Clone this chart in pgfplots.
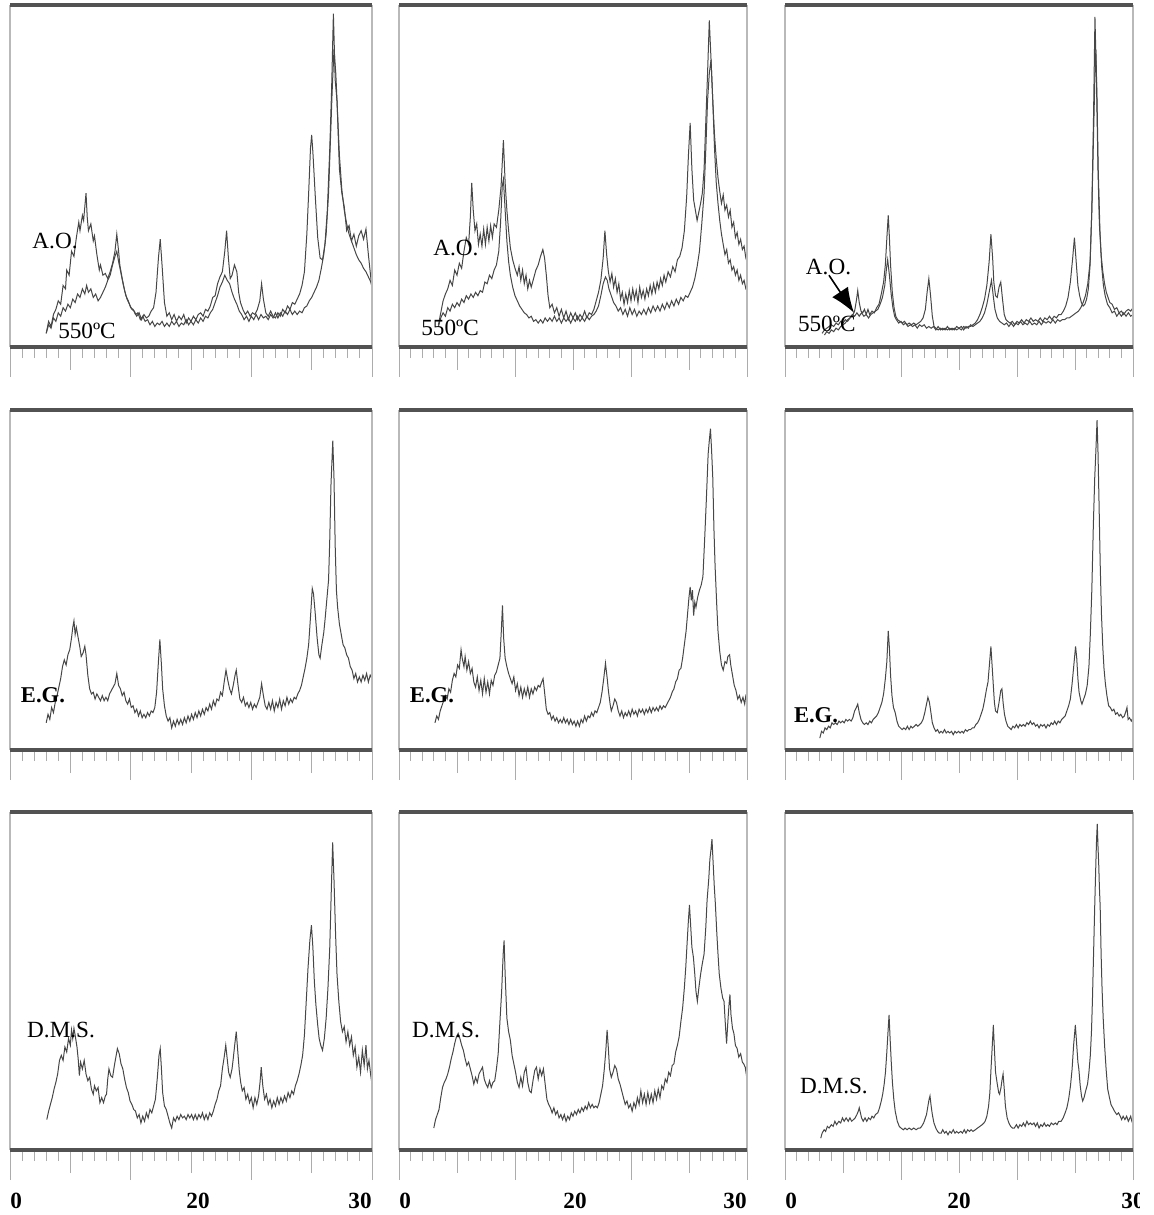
\documentclass[border=0pt]{standalone}
\usepackage{fontspec}
\setmainfont{Liberation Serif}
\usepackage{pgfplots}
\pgfplotsset{compat=1.18}
\usetikzlibrary{arrows.meta}

\pgfplotsset{
  xrd/.style={
    scale only axis,
    xmin=0, xmax=30, ymin=0, ymax=100,
    axis line style={draw=none},
    ytick=\empty,
    xtick={0,10,20,30},
    xticklabels={},
    minor xtick={1,...,29},
    extra x ticks={5,15,25},
    extra x tick labels={},
    extra x tick style={major tick length=11.5pt},
    xtick pos=lower,
    tick align=outside,
    major tick length=15pt,
    minor tick length=5.5pt,
    tick style={gray!65, line width=0.5pt},
    clip=false,
    anchor=south west,
  },
  curve/.style={black!72, line width=0.5pt},
}
\tikzset{lbl/.style={font=\fontsize{11.6}{13}\selectfont, inner sep=0pt},
         lblb/.style={font=\bfseries\fontsize{11.3}{13}\selectfont, inner sep=0pt},
         num/.style={font=\bfseries\fontsize{11.6}{13}\selectfont, inner sep=0pt}}
\newcommand\frm{%
  \draw[gray!55, line width=0.6pt] (rel axis cs:0,0) -- (rel axis cs:0,1);
  \draw[gray!55, line width=0.6pt] (rel axis cs:1,0) -- (rel axis cs:1,1);
  \draw[black!68, line width=1.6pt] (rel axis cs:0,1) -- (rel axis cs:1,1);
  \draw[black!68, line width=1.6pt] (rel axis cs:0,0) -- (rel axis cs:1,0);
}

\begin{document}
\begin{tikzpicture}
\path[use as bounding box] (0,0) rectangle (577pt,-607.5pt);

% ---------------- row 1 ----------------
\begin{axis}[xrd, at={(5pt,-173.5pt)}, width=181pt, height=171pt]
\addplot[curve] coordinates {
(3.0,4.0) (3.2,7.5) (3.4,6.0) (3.6,9.5) (3.8,11.0) (4.0,13.5) (4.2,12.5) (4.4,18.0) (4.6,17.0) (4.7,22.5) (4.9,21.0) (5.1,28.0) (5.3,26.5) (5.5,32.0) (5.7,36.5) (5.8,34.0) (6.0,38.5) (6.1,37.0) (6.3,45.0) (6.4,38.0) (6.5,34.0) (6.7,36.0) (6.9,31.0) (7.0,32.5) (7.2,27.0) (7.4,22.5) (7.5,24.0) (7.7,21.0) (7.9,21.5) (8.1,20.0) (8.3,22.0) (8.5,24.5) (8.7,28.0) (8.85,33.0) (9.0,28.0) (9.1,24.0) (9.3,20.0) (9.5,16.5) (9.7,14.0) (9.9,12.5) (10.1,11.0) (10.3,10.5) (10.5,9.0) (10.7,10.0) (10.9,8.0) (11.1,9.5) (11.3,8.5) (11.5,9.0) (11.7,10.5) (11.9,11.5) (12.1,16.0) (12.3,26.0) (12.45,31.5) (12.6,24.0) (12.8,13.0) (13.0,9.0) (13.2,10.0) (13.4,8.0) (13.6,9.5) (13.8,7.5) (14.0,9.0) (14.2,8.0) (14.4,9.5) (14.6,7.0) (14.8,8.5) (15.0,7.5) (15.2,9.0) (15.4,8.0) (15.6,9.5) (15.8,10.0) (16.0,9.0) (16.2,11.0) (16.4,10.5) (16.6,12.0) (16.8,14.5) (17.0,15.0) (17.2,18.5) (17.4,20.5) (17.6,22.0) (17.8,28.0) (17.95,34.0) (18.1,26.0) (18.25,20.0) (18.4,21.0) (18.6,24.0) (18.8,22.0) (18.95,16.0) (19.1,13.0) (19.3,11.0) (19.5,9.5) (19.7,10.5) (19.9,9.0) (20.1,10.0) (20.3,9.5) (20.5,11.0) (20.7,13.5) (20.85,18.5) (21.0,14.0) (21.2,10.0) (21.4,9.0) (21.6,10.5) (21.8,9.0) (22.0,8.5) (22.2,10.0) (22.4,9.0) (22.6,11.0) (22.8,10.0) (23.0,12.0) (23.2,11.0) (23.4,13.0) (23.6,12.5) (23.8,14.0) (24.0,15.5) (24.2,18.0) (24.4,22.0) (24.6,33.0) (24.75,45.0) (24.9,58.0) (25.0,62.0) (25.1,57.0) (25.3,44.0) (25.5,32.0) (25.7,26.0) (25.9,25.5) (26.1,30.0) (26.3,40.0) (26.5,58.0) (26.65,75.0) (26.8,97.5) (26.95,78.0) (27.1,72.0) (27.3,52.0) (27.5,45.0) (27.7,41.0) (27.9,34.0) (28.1,35.5) (28.3,31.0) (28.5,33.0) (28.7,29.5) (28.9,32.5) (29.1,34.0) (29.3,31.5) (29.5,34.5) (29.7,27.0) (29.85,22.0) (30.0,17.0)
};
\addplot[curve] coordinates {
(3.0,4.0) (3.2,6.5) (3.4,5.5) (3.6,8.5) (3.8,7.5) (4.0,10.0) (4.2,9.0) (4.4,11.5) (4.6,10.5) (4.8,12.5) (5.0,11.5) (5.2,14.0) (5.4,13.0) (5.6,15.5) (5.8,14.5) (6.0,17.0) (6.2,15.5) (6.35,18.0) (6.5,16.0) (6.7,17.0) (6.9,14.5) (7.1,15.5) (7.3,13.5) (7.5,14.5) (7.7,16.0) (7.9,17.5) (8.1,19.5) (8.3,21.0) (8.5,24.0) (8.7,26.5) (8.85,28.0) (9.0,25.0) (9.2,21.5) (9.4,18.0) (9.6,15.0) (9.8,13.5) (10.0,11.5) (10.2,11.0) (10.4,9.5) (10.6,10.0) (10.8,8.0) (11.0,9.0) (11.2,7.5) (11.4,8.0) (11.6,6.5) (11.8,7.5) (12.0,6.0) (12.2,7.0) (12.4,6.5) (12.6,7.5) (12.8,6.0) (13.0,7.0) (13.2,6.0) (13.4,7.5) (13.6,6.5) (13.8,7.5) (14.0,6.0) (14.2,7.0) (14.4,6.5) (14.6,8.0) (14.8,6.5) (15.0,7.5) (15.2,6.5) (15.4,8.0) (15.6,7.0) (15.8,8.5) (16.0,7.5) (16.2,9.0) (16.4,8.5) (16.6,10.0) (16.8,11.0) (17.0,13.0) (17.2,15.0) (17.4,17.5) (17.6,19.0) (17.8,21.0) (18.0,19.5) (18.2,18.5) (18.4,16.0) (18.6,14.0) (18.8,12.5) (19.0,10.5) (19.2,9.5) (19.4,8.0) (19.6,9.0) (19.8,7.5) (20.0,9.0) (20.2,8.0) (20.4,9.5) (20.6,8.0) (20.8,9.5) (21.0,8.5) (21.2,9.0) (21.4,8.0) (21.6,9.5) (21.8,8.5) (22.0,10.0) (22.2,8.5) (22.4,10.0) (22.6,9.0) (22.8,10.5) (23.0,9.5) (23.2,11.0) (23.4,9.5) (23.6,10.5) (23.8,9.5) (24.0,10.5) (24.2,10.0) (24.4,11.5) (24.6,12.0) (24.8,13.5) (25.0,14.5) (25.2,16.0) (25.4,17.5) (25.6,19.5) (25.8,23.0) (26.0,27.0) (26.2,33.0) (26.4,45.0) (26.55,60.0) (26.7,75.0) (26.85,87.0) (27.0,80.0) (27.15,68.0) (27.3,56.0) (27.5,46.0) (27.7,40.0) (27.9,36.0) (28.1,33.0) (28.3,31.0) (28.5,29.0) (28.7,27.0) (28.9,25.5) (29.1,24.5) (29.3,23.0) (29.5,22.0) (29.7,20.5) (29.9,19.0) (30.0,17.5)
};
\frm
\node[lbl] at (axis cs:3.73,31.0) {A.O.};
\node[lbl] at (axis cs:6.38,4.7) {550ºC};
\end{axis}

\begin{axis}[xrd, at={(199.5pt,-173.5pt)}, width=174pt, height=171pt]
\addplot[curve] coordinates {
(3.4,6.5) (3.6,10.0) (3.8,13.5) (4.0,15.5) (4.2,17.0) (4.4,19.5) (4.6,18.0) (4.8,22.5) (5.0,21.0) (5.2,24.5) (5.4,23.0) (5.6,28.0) (5.8,32.0) (6.0,30.0) (6.15,38.0) (6.27,48.0) (6.4,40.0) (6.55,34.0) (6.7,36.0) (6.85,30.0) (7.0,33.0) (7.15,29.5) (7.3,34.5) (7.45,30.0) (7.6,35.0) (7.75,31.0) (7.9,35.5) (8.05,32.0) (8.2,36.0) (8.4,35.0) (8.6,40.0) (8.8,47.0) (9.0,60.5) (9.15,48.0) (9.3,40.0) (9.45,34.0) (9.6,29.0) (9.8,25.5) (10.0,23.0) (10.2,21.0) (10.35,23.5) (10.5,19.5) (10.65,22.5) (10.8,18.5) (10.95,21.0) (11.1,17.0) (11.25,19.5) (11.4,17.5) (11.6,20.0) (11.8,22.5) (12.0,24.0) (12.2,26.5) (12.4,28.5) (12.55,26.0) (12.7,21.0) (12.85,15.0) (13.0,11.5) (13.2,12.5) (13.4,10.0) (13.6,11.5) (13.8,9.0) (14.0,11.0) (14.2,8.5) (14.4,10.5) (14.6,8.0) (14.8,10.0) (15.0,8.5) (15.2,10.0) (15.4,8.0) (15.6,9.5) (15.8,8.5) (16.0,10.5) (16.2,8.5) (16.4,10.0) (16.6,9.5) (16.8,11.0) (17.0,13.5) (17.2,16.0) (17.4,19.5) (17.6,26.0) (17.75,34.0) (17.9,27.0) (18.05,22.0) (18.2,19.0) (18.35,21.5) (18.5,17.5) (18.65,20.0) (18.8,16.0) (18.95,18.5) (19.1,14.0) (19.25,16.0) (19.4,12.5) (19.55,15.5) (19.7,13.0) (19.85,16.5) (20.0,13.5) (20.15,17.0) (20.3,14.0) (20.45,16.5) (20.6,13.0) (20.75,17.5) (20.9,14.5) (21.05,16.5) (21.2,14.0) (21.35,17.0) (21.5,15.0) (21.65,18.0) (21.8,15.5) (21.95,18.5) (22.1,16.0) (22.25,19.0) (22.4,17.0) (22.55,20.0) (22.7,18.0) (22.85,21.0) (23.0,19.0) (23.2,22.0) (23.4,20.5) (23.6,23.5) (23.8,22.0) (24.0,25.5) (24.2,26.5) (24.4,29.0) (24.6,34.0) (24.8,44.0) (24.95,56.0) (25.1,65.5) (25.25,52.0) (25.4,43.0) (25.55,40.0) (25.7,37.0) (25.85,39.5) (26.0,42.0) (26.15,45.0) (26.3,52.0) (26.45,66.0) (26.6,80.0) (26.75,95.5) (26.9,84.0) (27.05,72.0) (27.2,62.0) (27.35,55.0) (27.5,49.5) (27.65,45.5) (27.8,42.0) (27.95,44.5) (28.1,40.0) (28.25,41.5) (28.4,38.0) (28.55,40.0) (28.7,35.0) (28.85,36.5) (29.0,32.0) (29.15,33.5) (29.3,30.0) (29.45,31.5) (29.6,28.5) (29.75,29.5) (29.9,26.0) (30.0,25.0)
};
\addplot[curve] coordinates {
(3.4,6.0) (3.6,8.5) (3.8,10.0) (4.0,9.0) (4.2,11.5) (4.4,10.5) (4.6,12.5) (4.8,11.5) (5.0,13.0) (5.2,12.0) (5.4,14.0) (5.6,13.0) (5.8,15.0) (6.0,14.0) (6.2,15.5) (6.4,14.5) (6.6,16.0) (6.8,15.0) (7.0,16.5) (7.2,16.0) (7.4,19.0) (7.6,18.5) (7.8,21.0) (8.0,20.0) (8.2,22.5) (8.4,24.0) (8.6,28.0) (8.75,36.0) (8.9,47.0) (9.0,49.0) (9.15,40.0) (9.3,31.0) (9.45,25.0) (9.6,21.0) (9.8,17.5) (10.0,15.0) (10.2,13.5) (10.4,12.0) (10.6,11.0) (10.8,10.0) (11.0,9.5) (11.2,8.5) (11.4,9.0) (11.6,7.5) (11.8,8.0) (12.0,7.0) (12.2,8.0) (12.4,7.0) (12.6,8.5) (12.8,7.5) (13.0,8.5) (13.2,7.5) (13.4,9.0) (13.6,7.5) (13.8,8.5) (14.0,7.0) (14.2,8.5) (14.4,7.5) (14.6,8.5) (14.8,7.0) (15.0,8.5) (15.2,7.5) (15.4,9.0) (15.6,7.5) (15.8,8.5) (16.0,7.5) (16.2,9.0) (16.4,8.0) (16.6,9.0) (16.8,9.5) (17.0,10.5) (17.2,12.0) (17.4,15.0) (17.6,18.5) (17.8,20.5) (17.95,19.5) (18.1,17.0) (18.3,15.0) (18.5,13.0) (18.7,12.0) (18.9,10.5) (19.1,11.5) (19.3,9.5) (19.5,11.0) (19.7,9.0) (19.9,11.5) (20.1,9.5) (20.3,11.0) (20.5,9.0) (20.7,10.5) (20.9,9.5) (21.1,11.0) (21.3,9.5) (21.5,11.5) (21.7,10.0) (21.9,12.0) (22.1,10.5) (22.3,12.0) (22.5,10.5) (22.7,12.5) (22.9,11.0) (23.1,13.0) (23.3,11.5) (23.5,13.5) (23.7,12.0) (23.9,14.0) (24.1,12.5) (24.3,14.5) (24.5,13.5) (24.7,15.0) (24.9,14.5) (25.1,16.0) (25.3,17.5) (25.5,20.0) (25.7,23.5) (25.9,28.0) (26.1,36.0) (26.3,45.0) (26.45,58.0) (26.6,72.0) (26.75,80.0) (26.9,84.0) (27.05,72.0) (27.2,58.0) (27.35,48.0) (27.5,42.0) (27.65,37.0) (27.8,33.0) (27.95,30.0) (28.1,27.0) (28.25,28.5) (28.4,24.5) (28.55,25.5) (28.7,22.5) (28.85,23.5) (29.0,21.0) (29.15,22.5) (29.3,19.5) (29.45,21.0) (29.6,18.5) (29.75,19.5) (29.9,17.0) (30.0,16.5)
};
\frm
\node[lbl] at (axis cs:4.91,28.9) {A.O.};
\node[lbl] at (axis cs:4.4,5.6) {550ºC};
\end{axis}

\begin{axis}[xrd, at={(392.5pt,-173.5pt)}, width=174pt, height=171pt]
\addplot[curve] coordinates {
(3.2,4.0) (3.4,5.0) (3.6,5.5) (3.8,6.0) (4.0,6.5) (4.2,6.0) (4.4,7.0) (4.6,6.5) (4.8,7.5) (5.0,7.0) (5.2,8.0) (5.4,7.5) (5.6,8.5) (5.8,9.0) (6.0,10.5) (6.15,13.5) (6.27,16.5) (6.4,13.0) (6.55,10.5) (6.7,10.0) (6.85,11.0) (7.0,9.5) (7.15,11.0) (7.3,9.5) (7.5,10.5) (7.7,10.0) (7.9,11.5) (8.1,12.5) (8.3,15.5) (8.5,19.0) (8.65,24.0) (8.8,33.0) (8.9,38.5) (9.0,32.0) (9.1,24.0) (9.25,16.0) (9.4,11.5) (9.55,9.0) (9.7,8.0) (9.9,7.5) (10.1,7.0) (10.3,7.5) (10.5,6.5) (10.7,7.0) (10.9,6.5) (11.1,7.0) (11.3,6.5) (11.5,7.0) (11.7,7.5) (11.9,8.5) (12.1,11.0) (12.25,16.0) (12.4,20.0) (12.55,15.0) (12.7,9.0) (12.85,6.0) (13.0,5.5) (13.2,5.0) (13.4,5.5) (13.6,5.0) (13.8,5.5) (14.0,5.0) (14.2,5.5) (14.4,5.0) (14.6,5.5) (14.8,5.0) (15.0,5.5) (15.2,5.0) (15.4,6.0) (15.6,5.5) (15.8,6.0) (16.0,6.0) (16.2,6.5) (16.4,7.0) (16.6,8.0) (16.8,9.5) (17.0,11.5) (17.2,14.0) (17.4,18.0) (17.6,25.0) (17.75,33.0) (17.9,26.0) (18.0,19.0) (18.15,15.0) (18.3,14.5) (18.45,17.5) (18.6,19.0) (18.75,14.0) (18.9,9.5) (19.05,8.0) (19.2,7.5) (19.4,7.0) (19.6,7.5) (19.8,6.5) (20.0,7.5) (20.2,7.0) (20.4,8.0) (20.6,7.0) (20.8,8.0) (21.0,7.5) (21.2,8.5) (21.4,7.5) (21.6,8.0) (21.8,7.5) (22.0,8.5) (22.2,7.5) (22.4,8.5) (22.6,8.0) (22.8,9.0) (23.0,8.0) (23.2,9.0) (23.4,8.5) (23.6,9.5) (23.8,9.5) (24.0,10.5) (24.2,12.0) (24.4,14.5) (24.6,19.0) (24.8,26.0) (24.95,32.0) (25.1,25.0) (25.25,18.0) (25.4,15.0) (25.55,13.0) (25.7,12.0) (25.85,12.5) (26.0,14.0) (26.15,17.0) (26.3,24.0) (26.45,40.0) (26.6,68.0) (26.72,96.5) (26.85,78.0) (26.98,52.0) (27.1,36.0) (27.25,27.0) (27.4,22.0) (27.55,18.5) (27.7,16.0) (27.85,14.5) (28.0,13.0) (28.2,12.5) (28.4,11.0) (28.6,11.5) (28.8,10.0) (29.0,10.5) (29.2,9.5) (29.4,10.5) (29.6,11.0) (29.8,10.5) (30.0,11.5)
};
\addplot[curve] coordinates {
(3.4,3.5) (3.6,4.5) (3.8,4.0) (4.0,5.0) (4.2,4.5) (4.4,5.5) (4.6,5.0) (4.8,6.0) (5.0,6.5) (5.2,7.0) (5.4,8.0) (5.6,8.5) (5.8,9.5) (6.0,9.0) (6.2,10.0) (6.4,9.0) (6.6,10.0) (6.8,9.0) (7.0,9.5) (7.2,8.5) (7.4,9.5) (7.6,10.0) (7.8,10.5) (8.0,11.0) (8.2,12.5) (8.4,14.5) (8.6,18.0) (8.75,23.0) (8.85,25.5) (9.0,21.0) (9.15,15.5) (9.3,11.5) (9.45,9.0) (9.6,8.0) (9.8,7.0) (10.0,7.5) (10.2,6.5) (10.4,7.0) (10.6,6.0) (10.8,6.5) (11.0,6.0) (11.2,6.5) (11.4,5.5) (11.6,6.5) (11.8,6.0) (12.0,6.5) (12.2,5.5) (12.4,6.0) (12.6,5.5) (12.8,6.0) (13.0,5.0) (13.2,6.0) (13.4,5.0) (13.6,5.5) (13.8,5.0) (14.0,6.0) (14.2,5.0) (14.4,5.5) (14.6,5.0) (14.8,6.0) (15.0,5.5) (15.2,6.0) (15.4,5.0) (15.6,6.0) (15.8,5.5) (16.0,6.5) (16.2,6.0) (16.4,6.5) (16.6,7.0) (16.8,7.5) (17.0,8.5) (17.2,10.0) (17.4,12.5) (17.6,16.0) (17.8,19.5) (17.95,15.0) (18.1,11.0) (18.3,8.5) (18.5,7.5) (18.7,7.0) (18.9,6.5) (19.1,7.0) (19.3,6.0) (19.5,7.0) (19.7,6.0) (19.9,7.0) (20.1,6.5) (20.3,7.5) (20.5,6.5) (20.7,7.0) (20.9,6.5) (21.1,7.5) (21.3,6.5) (21.5,7.0) (21.7,6.5) (21.9,7.5) (22.1,6.5) (22.3,7.5) (22.5,7.0) (22.7,7.5) (22.9,7.0) (23.1,8.0) (23.3,7.0) (23.5,8.0) (23.7,7.5) (23.9,8.0) (24.1,8.0) (24.3,8.5) (24.5,8.5) (24.7,9.0) (24.9,9.5) (25.1,10.0) (25.3,10.5) (25.5,11.5) (25.7,13.0) (25.9,15.0) (26.1,18.5) (26.3,25.0) (26.45,40.0) (26.6,62.0) (26.72,80.0) (26.8,87.0) (26.9,72.0) (27.0,52.0) (27.15,34.0) (27.3,23.5) (27.45,18.0) (27.6,15.0) (27.8,12.5) (28.0,11.5) (28.2,10.0) (28.4,10.5) (28.6,9.0) (28.8,10.0) (29.0,9.0) (29.2,10.0) (29.4,9.0) (29.6,10.0) (29.8,9.0) (30.0,9.5)
};
\frm
\node[lbl] at (axis cs:3.75,23.4) {A.O.};
\node[lbl] at (axis cs:3.6,6.7) {550ºC};
\draw[-{Latex[length=12.5pt,width=9.5pt]}, line width=0.8pt] (axis cs:3.79,21.0) -- (axis cs:5.95,10.0);
\end{axis}

% ---------------- row 2 ----------------
\begin{axis}[xrd, at={(5pt,-375pt)}, width=181pt, height=170pt]
\addplot[curve] coordinates {
(3.0,8.0) (3.15,10.5) (3.3,9.0) (3.45,12.5) (3.6,11.0) (3.75,14.0) (3.9,16.0) (4.05,18.5) (4.2,21.0) (4.35,24.5) (4.5,26.5) (4.65,25.0) (4.8,28.0) (4.95,29.5) (5.1,33.0) (5.2,36.0) (5.3,38.0) (5.4,34.0) (5.5,36.0) (5.65,33.0) (5.8,30.0) (5.9,27.5) (6.05,28.5) (6.2,30.5) (6.3,28.0) (6.45,22.0) (6.6,18.0) (6.75,16.5) (6.9,17.0) (7.05,15.0) (7.2,16.5) (7.35,15.5) (7.5,14.5) (7.65,16.0) (7.8,14.5) (7.95,15.5) (8.1,14.5) (8.25,16.5) (8.4,17.5) (8.55,18.5) (8.7,19.5) (8.85,22.5) (9.0,19.0) (9.15,18.0) (9.3,16.0) (9.45,17.0) (9.6,14.5) (9.75,13.5) (9.9,15.0) (10.05,12.5) (10.2,13.0) (10.35,11.0) (10.5,12.0) (10.65,10.0) (10.8,11.5) (10.95,9.5) (11.1,10.5) (11.25,9.5) (11.4,11.0) (11.55,10.0) (11.7,11.5) (11.85,11.0) (12.0,12.5) (12.15,17.0) (12.3,26.0) (12.42,32.5) (12.55,25.0) (12.65,18.0) (12.8,13.0) (12.95,10.0) (13.1,8.5) (13.25,9.5) (13.4,6.5) (13.55,8.5) (13.7,7.0) (13.85,9.0) (14.0,7.5) (14.15,9.0) (14.3,7.5) (14.45,9.5) (14.6,8.0) (14.75,10.0) (14.9,8.5) (15.05,10.5) (15.2,9.0) (15.35,11.0) (15.5,9.5) (15.65,11.5) (15.8,10.0) (15.95,12.0) (16.1,10.5) (16.25,12.5) (16.4,11.5) (16.55,13.5) (16.7,12.0) (16.85,14.5) (17.0,13.0) (17.15,15.0) (17.3,14.5) (17.45,17.0) (17.6,16.0) (17.75,20.0) (17.9,23.5) (18.05,20.5) (18.2,18.0) (18.35,16.5) (18.5,19.0) (18.65,22.0) (18.75,23.5) (18.9,19.0) (19.05,15.0) (19.2,14.0) (19.35,15.5) (19.5,13.0) (19.65,14.0) (19.8,12.5) (19.95,14.0) (20.1,12.0) (20.25,13.5) (20.4,12.5) (20.55,14.0) (20.7,15.5) (20.85,19.5) (21.0,16.0) (21.15,13.0) (21.3,12.0) (21.45,14.0) (21.6,12.0) (21.75,14.5) (21.9,11.5) (22.05,14.0) (22.2,12.5) (22.35,15.0) (22.5,12.0) (22.65,14.5) (22.8,13.0) (22.95,15.5) (23.1,13.5) (23.25,15.0) (23.4,14.0) (23.55,15.5) (23.7,15.0) (23.85,16.5) (24.0,17.5) (24.15,19.0) (24.3,21.5) (24.45,24.0) (24.6,27.0) (24.75,31.0) (24.9,39.0) (25.05,47.5) (25.15,46.0) (25.3,40.0) (25.45,33.0) (25.6,28.0) (25.7,27.0) (25.85,31.0) (26.0,34.5) (26.1,38.0) (26.25,44.0) (26.4,50.0) (26.5,62.0) (26.6,78.0) (26.75,91.0) (26.85,80.0) (26.95,60.0) (27.05,47.0) (27.15,42.0) (27.3,37.0) (27.45,34.0) (27.6,31.0) (27.75,30.0) (27.9,28.0) (28.05,27.0) (28.2,24.5) (28.35,23.5) (28.5,21.0) (28.65,22.5) (28.8,20.0) (28.95,21.5) (29.1,20.0) (29.25,22.0) (29.4,20.5) (29.55,22.5) (29.7,20.0) (29.85,22.0) (30.0,21.0)
};
\frm
\node[lblb] at (axis cs:2.73,16.2) {E.G.};
\end{axis}

\begin{axis}[xrd, at={(199.5pt,-375pt)}, width=174pt, height=170pt]
\addplot[curve] coordinates {
(3.1,8.0) (3.25,10.0) (3.4,9.0) (3.55,11.5) (3.7,13.0) (3.85,14.5) (4.0,16.0) (4.15,15.0) (4.3,18.0) (4.45,17.0) (4.6,20.5) (4.75,22.5) (4.9,21.5) (5.05,25.0) (5.2,24.0) (5.35,29.5) (5.45,27.0) (5.6,24.5) (5.7,27.5) (5.85,23.5) (6.0,26.0) (6.15,22.5) (6.3,24.0) (6.45,20.0) (6.6,18.5) (6.75,21.5) (6.9,17.5) (7.05,20.5) (7.2,16.5) (7.35,21.0) (7.5,17.0) (7.65,20.0) (7.8,16.5) (7.95,20.5) (8.1,19.0) (8.25,22.0) (8.4,23.0) (8.55,25.0) (8.7,27.0) (8.82,35.0) (8.92,42.5) (9.02,33.0) (9.15,27.0) (9.3,24.5) (9.45,22.5) (9.6,21.0) (9.75,19.5) (9.9,21.5) (10.05,17.5) (10.2,19.5) (10.35,16.0) (10.5,18.5) (10.65,15.5) (10.8,18.0) (10.95,16.0) (11.1,18.5) (11.25,15.5) (11.4,18.0) (11.55,16.5) (11.7,18.5) (11.85,17.5) (12.0,19.0) (12.15,18.5) (12.3,20.0) (12.42,21.0) (12.55,17.0) (12.7,12.0) (12.85,10.5) (13.0,11.0) (13.15,9.0) (13.3,10.0) (13.45,8.5) (13.6,9.5) (13.75,8.0) (13.9,9.0) (14.05,8.0) (14.2,9.5) (14.35,8.0) (14.5,9.0) (14.65,7.5) (14.8,9.0) (14.95,7.5) (15.1,8.5) (15.25,7.0) (15.4,8.5) (15.55,7.0) (15.7,9.0) (15.85,8.0) (16.0,10.0) (16.15,8.5) (16.3,10.0) (16.45,9.5) (16.6,11.0) (16.75,10.0) (16.9,11.5) (17.05,11.0) (17.2,12.5) (17.35,14.0) (17.5,17.0) (17.65,21.0) (17.8,25.5) (17.95,21.0) (18.05,17.5) (18.2,13.5) (18.3,11.5) (18.45,13.0) (18.6,15.0) (18.75,14.0) (18.9,11.5) (19.05,10.0) (19.2,11.5) (19.35,9.5) (19.5,11.0) (19.65,10.0) (19.8,11.5) (19.95,10.0) (20.1,12.0) (20.25,10.5) (20.4,11.5) (20.55,10.0) (20.7,12.0) (20.85,11.0) (21.0,12.0) (21.15,10.5) (21.3,12.0) (21.45,11.0) (21.6,12.5) (21.75,11.0) (21.9,12.5) (22.05,11.5) (22.2,12.5) (22.35,11.5) (22.5,13.0) (22.65,12.0) (22.8,13.0) (22.95,12.5) (23.1,13.5) (23.25,14.5) (23.4,15.5) (23.55,17.0) (23.7,18.0) (23.85,20.0) (24.0,21.0) (24.15,23.5) (24.3,24.0) (24.45,27.0) (24.6,31.0) (24.75,35.0) (24.9,41.0) (25.0,45.0) (25.1,48.0) (25.2,44.0) (25.3,47.0) (25.4,39.5) (25.5,43.5) (25.6,42.0) (25.75,45.0) (25.9,47.0) (26.05,48.5) (26.2,51.0) (26.35,62.0) (26.5,74.0) (26.65,87.0) (26.75,91.0) (26.85,94.5) (26.95,88.0) (27.05,80.0) (27.15,65.0) (27.25,54.0) (27.4,42.0) (27.5,35.0) (27.65,29.0) (27.8,25.0) (27.95,23.5) (28.1,26.0) (28.25,25.5) (28.35,27.5) (28.5,28.0) (28.6,25.0) (28.75,22.0) (28.9,19.0) (29.05,17.5) (29.2,15.0) (29.35,16.0) (29.5,14.0) (29.65,15.5) (29.8,13.5) (29.9,16.0) (30.0,15.5)
};
\frm
\node[lblb] at (axis cs:2.84,16.2) {E.G.};
\end{axis}

\begin{axis}[xrd, at={(392.5pt,-375pt)}, width=174pt, height=170pt]
\addplot[curve] coordinates {
(3.0,3.5) (3.15,5.5) (3.3,5.0) (3.45,6.5) (3.6,6.0) (3.75,7.0) (3.9,6.5) (4.05,8.0) (4.2,7.5) (4.35,8.0) (4.5,7.5) (4.65,8.5) (4.8,8.0) (4.95,8.5) (5.1,8.0) (5.25,9.0) (5.4,8.5) (5.55,9.0) (5.7,8.5) (5.85,9.5) (6.0,11.5) (6.15,12.5) (6.27,13.5) (6.4,11.0) (6.55,9.0) (6.7,8.0) (6.85,7.5) (7.0,8.0) (7.15,7.5) (7.3,8.5) (7.45,8.0) (7.6,9.0) (7.75,9.5) (7.9,10.0) (8.05,11.0) (8.2,12.5) (8.35,14.0) (8.5,16.5) (8.65,21.0) (8.78,26.0) (8.9,35.0) (9.0,30.0) (9.1,22.0) (9.22,16.0) (9.35,12.5) (9.5,11.0) (9.65,8.5) (9.8,7.0) (9.95,6.5) (10.1,6.0) (10.25,6.5) (10.4,6.0) (10.55,7.0) (10.7,6.0) (10.85,7.0) (11.0,6.5) (11.15,7.0) (11.3,7.5) (11.45,7.0) (11.6,7.5) (11.75,8.0) (11.9,9.0) (12.05,11.0) (12.2,13.5) (12.32,15.5) (12.45,14.0) (12.58,11.0) (12.7,8.0) (12.85,6.5) (13.0,5.5) (13.15,6.0) (13.3,5.0) (13.45,5.5) (13.6,5.0) (13.75,6.0) (13.9,5.0) (14.05,5.5) (14.2,5.0) (14.35,5.5) (14.5,4.5) (14.65,5.5) (14.8,5.0) (14.95,5.5) (15.1,5.0) (15.25,5.5) (15.4,5.0) (15.55,6.0) (15.7,5.5) (15.85,6.0) (16.0,6.0) (16.15,6.5) (16.3,6.5) (16.45,7.5) (16.6,8.0) (16.75,9.0) (16.9,10.5) (17.05,12.0) (17.2,14.5) (17.35,17.5) (17.5,20.0) (17.62,25.0) (17.75,30.5) (17.85,25.0) (17.95,19.5) (18.05,14.0) (18.15,11.5) (18.3,11.0) (18.45,14.0) (18.6,17.5) (18.7,18.0) (18.8,14.0) (18.92,10.5) (19.05,8.5) (19.2,7.0) (19.35,6.5) (19.5,6.0) (19.65,7.0) (19.8,6.5) (19.95,7.5) (20.1,6.5) (20.25,7.5) (20.4,7.0) (20.55,7.5) (20.7,7.0) (20.85,8.0) (21.0,7.5) (21.15,8.5) (21.3,7.5) (21.45,8.0) (21.6,7.0) (21.75,7.5) (21.9,6.5) (22.05,7.5) (22.2,7.0) (22.35,7.5) (22.5,6.5) (22.65,7.5) (22.8,7.0) (22.95,8.0) (23.1,7.5) (23.25,8.5) (23.4,7.5) (23.55,8.5) (23.7,8.0) (23.85,9.0) (24.0,9.5) (24.15,10.0) (24.3,11.5) (24.45,13.0) (24.6,15.0) (24.75,19.5) (24.9,25.0) (25.05,30.5) (25.15,27.0) (25.25,21.0) (25.35,17.0) (25.5,14.5) (25.6,13.5) (25.75,15.0) (25.9,16.5) (26.05,19.0) (26.2,24.5) (26.32,34.0) (26.45,47.0) (26.58,66.0) (26.7,80.0) (26.8,88.0) (26.9,97.0) (26.98,88.0) (27.07,73.0) (27.17,55.0) (27.28,40.0) (27.4,30.0) (27.5,24.0) (27.62,19.5) (27.75,16.0) (27.9,13.0) (28.05,12.5) (28.2,11.5) (28.35,12.0) (28.5,10.5) (28.65,11.0) (28.8,10.0) (28.95,10.5) (29.1,9.5) (29.25,10.0) (29.4,11.5) (29.48,12.5) (29.58,9.0) (29.7,9.5) (29.85,8.5) (30.0,9.5)
};
\frm
\node[lblb] at (axis cs:2.67,10.3) {E.G.};
\end{axis}

% ---------------- row 3 ----------------
\begin{axis}[xrd, at={(5pt,-575pt)}, width=181pt, height=169pt]
\addplot[curve] coordinates {
(3.05,9.0) (3.2,11.5) (3.35,13.5) (3.5,15.5) (3.65,18.0) (3.8,20.0) (3.95,22.5) (4.1,26.5) (4.25,28.0) (4.4,26.5) (4.55,30.5) (4.7,29.0) (4.85,33.0) (5.0,31.0) (5.1,35.5) (5.2,33.0) (5.3,36.0) (5.42,33.5) (5.55,30.5) (5.65,27.0) (5.75,22.0) (5.85,26.0) (6.0,24.0) (6.15,26.5) (6.3,22.5) (6.45,20.5) (6.6,21.5) (6.75,18.0) (6.9,16.5) (7.0,19.0) (7.15,17.5) (7.3,18.5) (7.45,14.0) (7.6,15.5) (7.75,14.0) (7.9,16.0) (8.0,16.5) (8.1,21.0) (8.2,24.0) (8.35,22.0) (8.5,21.5) (8.65,25.0) (8.8,28.0) (8.9,30.0) (9.05,28.5) (9.2,25.5) (9.35,24.0) (9.5,21.0) (9.65,18.5) (9.8,17.0) (9.95,14.5) (10.1,13.5) (10.25,12.0) (10.4,11.5) (10.55,9.5) (10.7,10.5) (10.85,8.0) (11.0,10.0) (11.15,8.5) (11.3,11.0) (11.45,9.5) (11.6,12.0) (11.75,11.0) (11.9,13.0) (12.05,15.0) (12.2,21.0) (12.35,28.0) (12.45,30.0) (12.55,24.0) (12.65,17.0) (12.8,13.0) (12.95,12.0) (13.1,10.0) (13.25,8.0) (13.4,6.5) (13.55,9.5) (13.7,8.5) (13.85,10.0) (14.0,9.0) (14.15,10.5) (14.3,9.5) (14.45,10.0) (14.6,9.0) (14.75,10.5) (14.9,9.5) (15.05,10.5) (15.2,9.0) (15.35,10.5) (15.5,9.0) (15.65,10.5) (15.8,9.5) (15.95,11.0) (16.1,9.0) (16.25,10.5) (16.4,9.0) (16.55,11.0) (16.7,10.0) (16.85,11.5) (17.0,13.5) (17.15,15.0) (17.3,17.5) (17.45,19.0) (17.6,24.0) (17.75,27.5) (17.88,31.0) (18.0,27.0) (18.12,23.0) (18.25,21.5) (18.4,24.0) (18.5,27.0) (18.62,31.0) (18.75,35.0) (18.88,29.0) (19.0,23.5) (19.12,20.0) (19.25,17.5) (19.4,18.5) (19.55,15.0) (19.7,16.5) (19.85,14.0) (20.0,15.5) (20.15,12.5) (20.3,15.5) (20.45,13.5) (20.6,16.0) (20.72,20.0) (20.82,24.5) (20.95,19.0) (21.1,15.0) (21.25,16.5) (21.4,13.5) (21.55,15.0) (21.7,12.5) (21.85,14.5) (22.0,13.0) (22.15,15.5) (22.3,13.5) (22.45,15.5) (22.6,14.0) (22.75,16.0) (22.9,14.5) (23.05,17.0) (23.2,15.5) (23.35,17.5) (23.5,16.5) (23.65,19.0) (23.8,20.5) (23.95,22.5) (24.1,25.0) (24.25,28.0) (24.4,34.0) (24.55,44.0) (24.7,54.0) (24.85,62.0) (24.98,66.5) (25.1,60.0) (25.22,50.0) (25.35,43.0) (25.5,37.0) (25.62,33.0) (25.75,31.0) (25.9,29.5) (26.05,33.0) (26.2,39.0) (26.35,48.0) (26.5,60.0) (26.62,76.0) (26.74,91.0) (26.85,80.0) (26.98,64.0) (27.1,52.0) (27.25,44.0) (27.4,38.0) (27.55,35.0) (27.7,36.5) (27.85,32.0) (28.0,35.0) (28.15,31.0) (28.3,33.5) (28.45,28.0) (28.6,30.5) (28.75,24.5) (28.9,27.5) (29.05,23.0) (29.2,29.5) (29.35,25.0) (29.5,31.0) (29.62,24.0) (29.75,26.5) (29.9,22.0) (30.0,19.5)
};
\frm
\node[lbl] at (axis cs:4.23,35.5) {D.M.S.};
\coordinate (a0) at (axis cs:0,0);
\coordinate (a15) at (axis cs:15,0);
\coordinate (a30) at (axis cs:30,0);
\end{axis}

\begin{axis}[xrd, at={(199.5pt,-575pt)}, width=174pt, height=169pt]
\addplot[curve] coordinates {
(3.0,6.5) (3.15,9.0) (3.3,10.5) (3.45,12.0) (3.6,15.5) (3.75,18.5) (3.9,20.0) (4.05,21.0) (4.2,22.5) (4.35,24.5) (4.5,27.0) (4.65,29.0) (4.8,31.5) (4.95,33.5) (5.1,34.5) (5.25,33.0) (5.4,31.0) (5.55,29.5) (5.7,27.0) (5.85,25.0) (6.0,26.0) (6.15,24.0) (6.3,22.0) (6.45,19.5) (6.6,21.5) (6.75,20.0) (6.9,22.5) (7.05,23.5) (7.2,24.5) (7.35,21.0) (7.5,19.5) (7.65,18.5) (7.8,20.5) (7.95,18.5) (8.1,20.0) (8.25,20.5) (8.4,24.0) (8.55,28.5) (8.7,38.0) (8.85,47.0) (8.98,58.0) (9.06,62.0) (9.15,52.0) (9.3,39.0) (9.45,35.0) (9.6,32.5) (9.75,28.0) (9.9,25.5) (10.05,23.0) (10.2,20.0) (10.35,18.5) (10.5,21.5) (10.65,19.0) (10.8,23.0) (10.95,24.5) (11.1,20.0) (11.25,17.5) (11.4,17.0) (11.55,20.5) (11.7,23.5) (11.85,24.5) (12.0,21.0) (12.15,24.0) (12.3,22.0) (12.45,24.0) (12.6,19.5) (12.75,15.0) (12.9,13.5) (13.05,12.5) (13.2,11.0) (13.35,12.5) (13.5,10.5) (13.65,11.5) (13.8,9.5) (13.95,10.5) (14.1,9.0) (14.25,10.5) (14.4,8.5) (14.55,10.0) (14.7,9.0) (14.85,11.0) (15.0,10.0) (15.15,11.5) (15.3,10.5) (15.45,12.0) (15.6,11.0) (15.75,12.5) (15.9,11.5) (16.05,13.0) (16.2,12.0) (16.35,14.0) (16.5,12.5) (16.65,13.5) (16.8,12.5) (16.95,13.0) (17.1,12.5) (17.25,14.0) (17.4,16.5) (17.55,19.0) (17.7,24.0) (17.82,29.0) (17.94,35.5) (18.05,30.0) (18.15,24.0) (18.3,21.5) (18.45,23.0) (18.6,25.0) (18.75,24.0) (18.9,21.0) (19.05,19.5) (19.2,17.5) (19.35,15.5) (19.5,13.5) (19.65,14.5) (19.8,12.5) (19.95,13.5) (20.1,11.5) (20.25,14.0) (20.4,12.5) (20.55,15.5) (20.7,13.5) (20.85,17.5) (21.0,14.0) (21.15,16.5) (21.3,13.5) (21.45,17.0) (21.6,14.0) (21.75,16.5) (21.9,14.0) (22.05,17.5) (22.2,15.0) (22.35,18.0) (22.5,15.5) (22.65,19.0) (22.8,18.0) (22.95,21.0) (23.1,20.0) (23.25,23.0) (23.4,22.0) (23.55,25.0) (23.7,25.5) (23.85,29.0) (24.0,31.0) (24.15,33.5) (24.3,38.0) (24.45,42.0) (24.6,48.0) (24.72,54.0) (24.85,62.0) (24.95,68.0) (25.04,72.5) (25.15,66.0) (25.25,60.0) (25.38,57.0) (25.5,52.0) (25.6,47.0) (25.72,44.0) (25.85,48.0) (26.0,52.0) (26.14,55.0) (26.3,58.0) (26.45,66.0) (26.56,74.0) (26.7,80.0) (26.8,86.0) (26.9,89.0) (26.98,92.0) (27.08,85.0) (27.18,78.0) (27.27,73.0) (27.4,64.0) (27.5,58.0) (27.61,52.0) (27.75,48.0) (27.9,45.0) (28.02,44.0) (28.12,38.0) (28.24,31.5) (28.35,38.0) (28.45,43.0) (28.53,46.0) (28.62,40.0) (28.75,36.0) (28.87,34.5) (29.0,31.0) (29.15,30.0) (29.29,27.5) (29.45,28.5) (29.6,26.0) (29.71,25.5) (29.85,24.5) (30.0,21.0)
};
\frm
\node[lbl] at (axis cs:4.05,35.5) {D.M.S.};
\coordinate (b0) at (axis cs:0,0);
\coordinate (b15) at (axis cs:15,0);
\coordinate (b30) at (axis cs:30,0);
\end{axis}

\begin{axis}[xrd, at={(392.5pt,-575pt)}, width=174pt, height=169pt]
\addplot[curve] coordinates {
(3.08,3.5) (3.2,5.0) (3.37,6.0) (3.5,5.5) (3.65,7.0) (3.8,6.5) (4.0,7.5) (4.15,7.0) (4.3,8.5) (4.45,7.5) (4.64,8.5) (4.8,8.0) (4.95,9.5) (5.1,8.5) (5.27,9.5) (5.45,8.5) (5.6,9.5) (5.75,8.5) (5.9,9.0) (6.05,9.5) (6.2,10.5) (6.32,11.5) (6.4,12.5) (6.5,11.0) (6.6,9.5) (6.74,8.5) (6.9,9.5) (7.05,8.5) (7.2,9.5) (7.37,9.0) (7.5,10.0) (7.65,9.5) (7.8,10.5) (8.0,11.0) (8.15,12.5) (8.3,14.5) (8.42,16.5) (8.55,19.5) (8.66,23.0) (8.76,28.0) (8.88,35.0) (8.97,40.0) (9.06,33.0) (9.16,26.0) (9.26,20.0) (9.38,15.0) (9.5,11.5) (9.68,8.5) (9.85,7.0) (10.0,6.5) (10.2,6.0) (10.35,6.5) (10.52,6.0) (10.7,6.5) (10.9,6.0) (11.1,6.5) (11.3,6.0) (11.5,6.5) (11.65,6.5) (11.78,7.0) (11.95,8.0) (12.1,9.5) (12.2,10.5) (12.32,13.0) (12.42,15.0) (12.5,16.0) (12.6,13.0) (12.7,10.5) (12.84,8.0) (13.0,6.5) (13.15,5.5) (13.3,5.0) (13.46,5.0) (13.6,6.0) (13.75,5.0) (13.9,5.5) (14.05,4.5) (14.2,5.5) (14.35,5.0) (14.5,6.0) (14.65,5.0) (14.8,5.5) (14.95,5.0) (15.15,5.5) (15.3,5.0) (15.45,6.0) (15.6,5.0) (15.75,6.0) (15.9,5.5) (16.05,6.0) (16.2,5.5) (16.41,6.0) (16.6,6.5) (16.8,7.0) (17.0,7.5) (17.15,8.0) (17.25,8.5) (17.4,10.0) (17.55,13.0) (17.66,17.0) (17.76,24.0) (17.87,31.0) (17.96,37.0) (18.05,30.0) (18.15,23.0) (18.3,19.5) (18.42,17.0) (18.5,16.5) (18.62,18.5) (18.72,21.0) (18.8,22.5) (18.9,18.0) (19.0,13.0) (19.15,9.5) (19.3,8.0) (19.45,7.0) (19.6,6.5) (19.77,6.5) (19.95,7.5) (20.1,6.5) (20.25,7.5) (20.4,7.0) (20.55,8.0) (20.7,7.0) (20.85,8.5) (21.0,7.5) (21.15,8.0) (21.3,7.5) (21.46,8.0) (21.6,7.0) (21.75,8.0) (21.9,6.5) (22.05,7.5) (22.2,7.0) (22.35,8.0) (22.5,7.0) (22.65,7.5) (22.8,7.0) (22.95,8.0) (23.14,7.5) (23.3,8.0) (23.45,7.5) (23.6,8.5) (23.8,8.5) (23.98,9.5) (24.15,11.0) (24.3,12.5) (24.45,15.0) (24.61,19.0) (24.75,24.0) (24.88,31.0) (25.03,37.0) (25.15,31.0) (25.25,26.0) (25.33,24.0) (25.45,19.0) (25.56,16.0) (25.66,14.5) (25.78,15.5) (25.92,17.5) (26.08,19.5) (26.2,23.0) (26.32,28.0) (26.42,35.0) (26.5,44.0) (26.6,58.0) (26.71,73.5) (26.8,85.0) (26.86,92.0) (26.92,96.5) (26.98,90.0) (27.05,84.0) (27.1,78.0) (27.17,72.0) (27.25,58.0) (27.33,48.0) (27.43,39.0) (27.55,31.0) (27.68,24.0) (27.82,18.0) (27.97,15.5) (28.1,13.5) (28.25,12.5) (28.4,11.5) (28.6,10.5) (28.75,11.0) (28.9,10.0) (29.02,9.0) (29.15,10.0) (29.3,9.0) (29.45,10.0) (29.6,8.5) (29.8,10.0) (29.9,8.5) (30.0,9.0)
};
\frm
\node[lbl] at (axis cs:4.22,18.9) {D.M.S.};
\coordinate (c0) at (axis cs:0,0);
\coordinate (c15) at (axis cs:15,0);
\coordinate (c30) at (axis cs:30,0);
\end{axis}

% bottom tick labels
\node[num, anchor=base west] at ([yshift=-29pt]a0) {0};
\node[num, anchor=base] at ([xshift=3.5pt, yshift=-29pt]a15) {20};
\node[num, anchor=base east] at ([yshift=-29pt]a30) {30};
\node[num, anchor=base west] at ([yshift=-29pt]b0) {0};
\node[num, anchor=base] at ([xshift=1pt, yshift=-29pt]b15) {20};
\node[num, anchor=base east] at ([yshift=-29pt]b30) {30};
\node[num, anchor=base west] at ([yshift=-29pt]c0) {0};
\node[num, anchor=base] at ([yshift=-29pt]c15) {20};
\begin{scope}
\clip (0,0) rectangle (569.5pt,-607.5pt);
\node[num, anchor=base west] at ([xshift=-6pt, yshift=-29pt]c30) {30};
\end{scope}
\end{tikzpicture}
\end{document}
